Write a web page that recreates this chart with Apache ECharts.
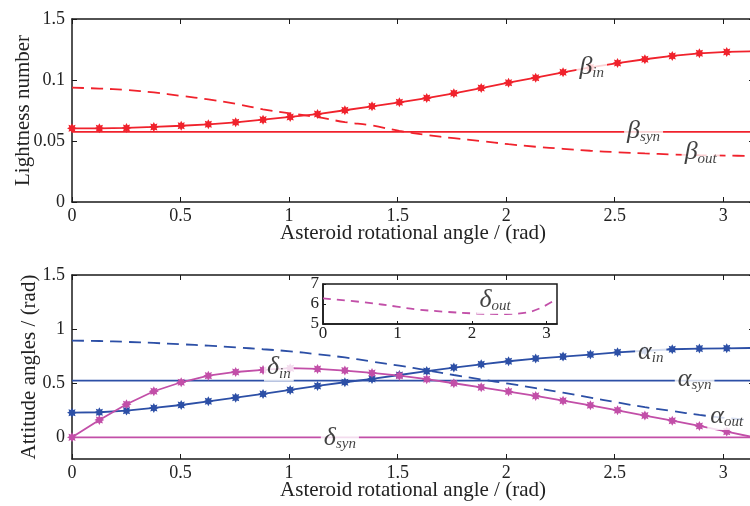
<!DOCTYPE html>
<html>
<head>
<meta charset="utf-8">
<script src="https://cdn.jsdelivr.net/npm/echarts@6/dist/echarts.min.js"></script>
<style>html,body{margin:0;padding:0;background:#fff}</style>
</head>
<body>
<div id="main" style="width:750px;height:506px"></div>
<script>
// rotational angle samples (rad), k*pi/25
const angle = [0, 0.126, 0.251, 0.377, 0.503, 0.628, 0.754, 0.880, 1.005, 1.131, 1.257, 1.382, 1.508,
  1.634, 1.759, 1.885, 2.011, 2.136, 2.262, 2.388, 2.513, 2.639, 2.765, 2.890, 3.016, 3.142]

// lightness numbers
const betaIn = [0.0604, 0.0604, 0.0607, 0.0615, 0.0625, 0.0637, 0.0653, 0.0675, 0.0697, 0.0721, 0.0752, 0.0784, 0.0817,
  0.0852, 0.0891, 0.0934, 0.0978, 0.1019, 0.1063, 0.1103, 0.1139, 0.1170, 0.1197, 0.1219, 0.1230, 0.1235]
const betaOut = [0.0937, 0.0930, 0.0918, 0.0898, 0.0870, 0.0841, 0.0805, 0.0760, 0.0727, 0.0695, 0.0655, 0.0627, 0.0583,
  0.0549, 0.0523, 0.0499, 0.0474, 0.0453, 0.0436, 0.0420, 0.0408, 0.0398, 0.0390, 0.0384, 0.0380, 0.0378]
const betaSyn = 0.0574

// attitude angles (rad)
const alphaIn = [0.228, 0.232, 0.247, 0.272, 0.299, 0.333, 0.367, 0.401, 0.438, 0.475, 0.509, 0.540, 0.576,
  0.612, 0.645, 0.675, 0.703, 0.728, 0.746, 0.765, 0.786, 0.800, 0.814, 0.820, 0.823, 0.826]
const alphaOut = [0.894, 0.890, 0.882, 0.872, 0.860, 0.847, 0.832, 0.814, 0.795, 0.768, 0.738, 0.700, 0.662,
  0.620, 0.576, 0.535, 0.496, 0.455, 0.413, 0.368, 0.322, 0.279, 0.243, 0.207, 0.178, 0.158]
const alphaSyn = 0.524
const deltaIn = [0, 0.161, 0.306, 0.426, 0.509, 0.570, 0.604, 0.623, 0.639, 0.632, 0.617, 0.595, 0.570,
  0.537, 0.500, 0.462, 0.423, 0.383, 0.339, 0.296, 0.250, 0.201, 0.154, 0.105, 0.053, 0]
const deltaSyn = 0

// inset: delta_out
const deltaOutAngle = [0, 0.59, 0.99, 1.26, 1.61, 2.02, 2.37, 2.46, 2.73, 2.91, 3.13]
const deltaOut = [6.28, 6.07, 5.87, 5.73, 5.62, 5.53, 5.50, 5.50, 5.57, 5.78, 6.23]

// tick labels
const xTicks = [0, 0.5, 1, 1.5, 2, 2.5, 3]
const topYTicks = [0, 0.05, 0.1, 0.15]
const topYLabels = ['0', '0.05', '0.1', '1.5']
const bottomYTicks = [0, 0.5, 1, 1.5]
const insetXTicks = [0, 1, 2, 3]
const insetYTicks = [5, 6, 7]

// curve names written on the plots (data coords)
const topNotes = [
  { sym: 'β', sub: 'in', x: 2.394, y: 0.1107 },
  { sym: 'β', sub: 'syn', x: 2.633, y: 0.0582 },
  { sym: 'β', sub: 'out', x: 2.896, y: 0.0406 }
]
const bottomNotes = [
  { sym: 'δ', sub: 'in', x: 0.953, y: 0.646 },
  { sym: 'δ', sub: 'syn', x: 1.234, y: -0.006 },
  { sym: 'α', sub: 'in', x: 2.666, y: 0.789 },
  { sym: 'α', sub: 'syn', x: 2.868, y: 0.540 },
  { sym: 'α', sub: 'out', x: 3.016, y: 0.198 }
]
const insetNotes = [{ sym: 'δ', sub: 'out', x: 2.31, y: 6.2 }]

const FONT = 'Liberation Serif'
const RED = '#f0222c'
const BLUE = '#2c4fa6'
const MAGENTA = '#c24fa8'
const XMAX = Math.PI

// asterisk-like marker
function starPath() {
  let d = ''
  for (let i = 0; i < 16; i++) {
    const a = i * Math.PI / 8 - Math.PI / 2
    const r = i % 2 === 0 ? 10 : 6
    d += (i === 0 ? 'M' : 'L') + (10 + r * Math.cos(a)).toFixed(2) + ' ' + (10 + r * Math.sin(a)).toFixed(2)
  }
  return 'path://' + d + 'Z'
}
const STAR = starPath()

const pairs = (xs, ys) => xs.map((x, i) => [x, ys[i]])
const flat = (v) => [[0, v], [XMAX, v]]

const axisLine = { show: true, onZero: false, lineStyle: { color: '#1a1a1a', width: 1.5 } }
const tickStyle = { lineStyle: { color: '#1a1a1a', width: 1 } }

function xPair(grid, name) {
  return [
    {
      type: 'value', gridIndex: grid, min: 0, max: XMAX, position: 'bottom',
      axisLine: axisLine,
      axisTick: { inside: true, length: 5, customValues: xTicks, ...tickStyle },
      axisLabel: { customValues: xTicks, margin: 5, fontFamily: FONT, fontSize: 18, color: '#222' },
      splitLine: { show: false },
      name: name, nameLocation: 'middle', nameGap: 21, nameMoveOverlap: false,
      nameTextStyle: { fontFamily: FONT, fontSize: 21, color: '#222' }
    },
    {
      type: 'value', gridIndex: grid, min: 0, max: XMAX, position: 'top',
      axisLine: axisLine,
      axisTick: { inside: true, length: 5, customValues: xTicks, ...tickStyle },
      axisLabel: { show: false }, splitLine: { show: false }
    }
  ]
}

function yPair(grid, min, max, ticks, fmt, name, gap) {
  return [
    {
      type: 'value', gridIndex: grid, min: min, max: max, position: 'left',
      axisLine: axisLine,
      axisTick: { inside: true, length: 5, customValues: ticks, ...tickStyle },
      axisLabel: { customValues: ticks, margin: 7, fontFamily: FONT, fontSize: 18, color: '#222', formatter: fmt },
      splitLine: { show: false },
      name: name, nameLocation: 'middle', nameGap: gap, nameRotate: 90, nameMoveOverlap: false,
      nameTextStyle: { fontFamily: FONT, fontSize: 21, color: '#222' }
    },
    {
      type: 'value', gridIndex: grid, min: min, max: max, position: 'right',
      axisLine: axisLine,
      axisTick: { inside: true, length: 5, customValues: ticks, ...tickStyle },
      axisLabel: { show: false }, splitLine: { show: false }
    }
  ]
}

function starLine(name, xi, yi, data, color) {
  return {
    name: name, type: 'line', xAxisIndex: xi, yAxisIndex: yi, data: data,
    symbol: STAR, symbolSize: 10, showAllSymbol: true,
    itemStyle: { color: color }, lineStyle: { color: color, width: 1.8 }
  }
}
function plainLine(name, xi, yi, data, color, dashed, smooth) {
  return {
    name: name, type: 'line', xAxisIndex: xi, yAxisIndex: yi, data: data, symbol: 'none',
    smooth: smooth ? 0.35 : false,
    lineStyle: { color: color, width: 1.8, type: dashed ? [12, 7] : 'solid' }
  }
}
function notes(xi, yi, list) {
  return {
    type: 'scatter', xAxisIndex: xi, yAxisIndex: yi, symbolSize: 0, z: 10, silent: true,
    data: list.map(n => ({ value: [n.x, n.y], label: { formatter: '{g|' + n.sym + '}{s|' + n.sub + '}' } })),
    label: {
      show: true, position: 'inside', color: '#111', backgroundColor: '#fff', padding: [0, 3],
      rich: {
        g: { fontFamily: FONT, fontStyle: 'italic', fontSize: 26, lineHeight: 28, color: '#111' },
        s: { fontFamily: FONT, fontStyle: 'italic', fontSize: 15, lineHeight: 15, verticalAlign: 'bottom', color: '#111' }
      }
    }
  }
}

const chart = echarts.init(document.getElementById('main'))
const topX = xPair(0, 'Asteroid rotational angle / (rad)')
const botX = xPair(1, 'Asteroid rotational angle / (rad)')
const topY = yPair(0, 0, 0.15, topYTicks, (v) => topYLabels[topYTicks.findIndex(t => Math.abs(t - v) < 1e-9)], 'Lightness number', 38)
const botY = yPair(1, -0.2, 1.5, bottomYTicks, (v) => String(v), 'Attitude angles / (rad)', 32)

const option = {
  animation: false,
  backgroundColor: '#fff',
  grid: [
    { left: 72, top: 19, right: -4, height: 183, outerBoundsMode: 'none' },
    { left: 72, top: 275, right: -4, height: 184, outerBoundsMode: 'none' },
    { left: 323, top: 284, width: 234, height: 40, outerBoundsMode: 'none',
      show: true, backgroundColor: '#fff', borderColor: '#1a1a1a', borderWidth: 1.5 }
  ],
  xAxis: [
    ...topX, ...botX,
    {
      type: 'value', gridIndex: 2, min: 0, max: XMAX,
      axisLine: axisLine,
      axisTick: { inside: true, length: 3, customValues: insetXTicks, ...tickStyle },
      axisLabel: { customValues: insetXTicks, margin: 1, fontFamily: FONT, fontSize: 17, color: '#222' },
      splitLine: { show: false }
    }
  ],
  yAxis: [
    ...topY, ...botY,
    {
      type: 'value', gridIndex: 2, min: 5, max: 7,
      axisLine: axisLine,
      axisTick: { inside: true, length: 3, customValues: insetYTicks, ...tickStyle },
      axisLabel: { customValues: insetYTicks, margin: 4, fontFamily: FONT, fontSize: 17, color: '#222' },
      splitLine: { show: false }
    }
  ],
  series: [
    plainLine('beta_syn', 0, 0, flat(betaSyn), RED, false, false),
    plainLine('beta_out', 0, 0, pairs(angle, betaOut), RED, true, true),
    starLine('beta_in', 0, 0, pairs(angle, betaIn), RED),
    notes(0, 0, topNotes),

    plainLine('alpha_syn', 2, 2, flat(alphaSyn), BLUE, false, false),
    plainLine('delta_syn', 2, 2, flat(deltaSyn), MAGENTA, false, false),
    plainLine('alpha_out', 2, 2, pairs(angle, alphaOut), BLUE, true, true),
    starLine('alpha_in', 2, 2, pairs(angle, alphaIn), BLUE),
    starLine('delta_in', 2, 2, pairs(angle, deltaIn), MAGENTA),
    notes(2, 2, bottomNotes),

    plainLine('delta_out', 4, 4, pairs(deltaOutAngle, deltaOut), MAGENTA, true, true),
    notes(4, 4, insetNotes)
  ]
}
option.series[10].lineStyle.type = [8, 6]
chart.setOption(option)
</script>
</body>
</html>
